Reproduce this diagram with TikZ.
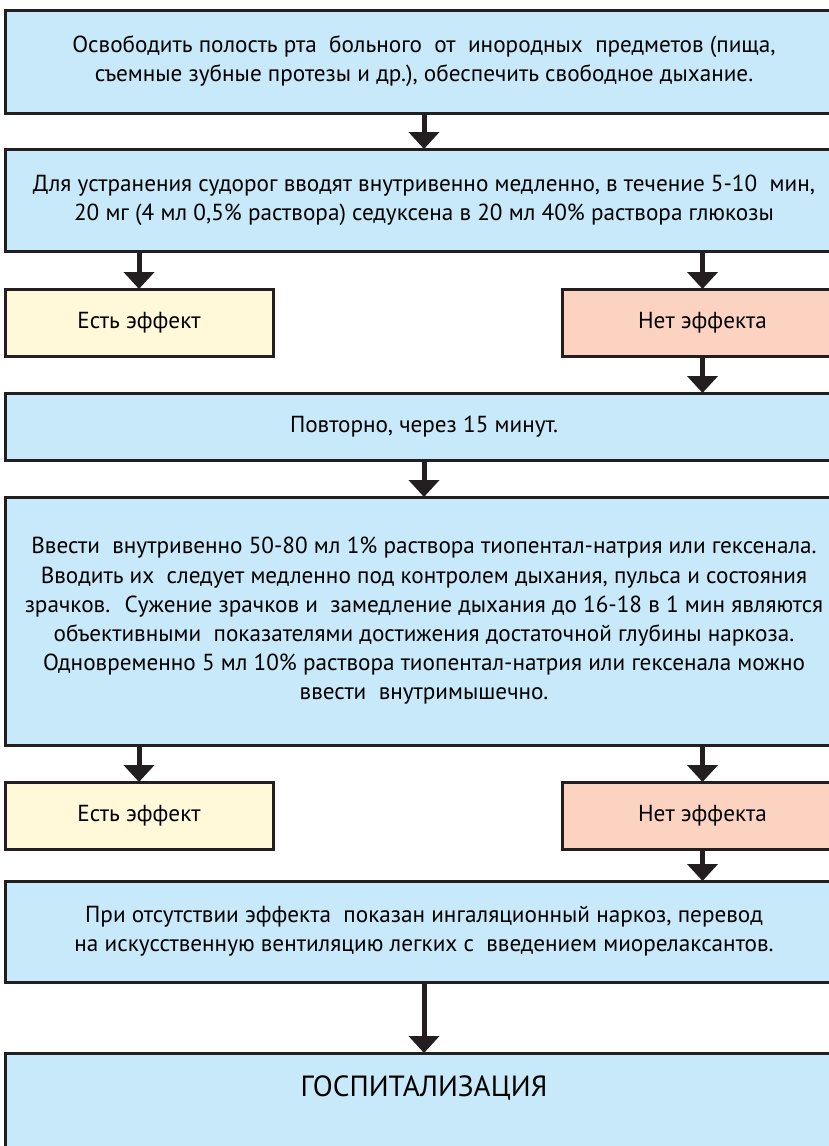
\documentclass[tikz,border=0pt]{standalone}
\usepackage{fontspec}
\setmainfont{PT Sans}
\usepackage{tikz}
\usetikzlibrary{positioning,arrows.meta}

\definecolor{stepblue}{HTML}{C7E9F9}
\definecolor{yesyellow}{HTML}{FFF9D9}
\definecolor{nosalmon}{HTML}{FCD3C1}
\definecolor{edgegray}{HTML}{231F20}

\begin{document}
\begin{tikzpicture}[
    x=0.5pt, y=-0.5pt,
    box/.style={draw=edgegray, line width=1.5pt, outer sep=0pt, inner sep=0pt, align=center, font=\fontsize{11.6}{14.6}\selectfont},
    mainbox/.style={box, fill=stepblue, minimum width=419pt},
    yesbox/.style={box, fill=yesyellow, minimum width=134pt, minimum height=33.5pt},
    nobox/.style={box, fill=nosalmon, minimum width=140.5pt, minimum height=33.5pt},
    arr/.style={-{Triangle[width=15pt,length=8.5pt]}, line width=2.5pt, draw=edgegray}
]
\useasboundingbox (0,0) rectangle (829,1146);
\clip (0,0) rectangle (829,1146);

% First aid
\node[mainbox, minimum height=51.5pt, anchor=north west] (free) at (5,10)
{Освободить полость рта \ больного \ от \ инородных \ предметов (пища,\\съемные зубные протезы и др.), обеспечить свободное дыхание.};
\node[mainbox, minimum height=51pt, below=18pt of free] (seduxen)
{Для устранения судорог вводят внутривенно медленно, в течение 5-10 \ мин,\\20 мг (4 мл 0,5\% раствора) седуксена в 20 мл 40\% раствора глюкозы};

% First result
\node[yesbox, below=19pt of seduxen.south west, anchor=north west] (yes1) {Есть эффект};
\node[nobox, below=19pt of seduxen.south east, anchor=north east] (no1) {Нет эффекта};

% Repeat
\node[mainbox, minimum height=33.5pt, below=18.5pt of yes1.south west, anchor=north west] (again)
{Повторно, через 15 минут.};
\node[mainbox, minimum height=124pt, below=18.5pt of again] (thiopental)
{Ввести \ внутривенно 50-80 мл 1\% раствора тиопентал-натрия или гексенала.\\
Вводить их \ следует медленно под контролем дыхания, пульса и состояния\\
зрачков. \ Сужение зрачков и \ замедление дыхания до 16-18 в 1 мин являются\\
объективными \ показателями достижения достаточной глубины наркоза.\\
Одновременно 5 мл 10\% раствора тиопентал-натрия или гексенала можно\\
ввести \ внутримышечно.};

% Second result
\node[yesbox, below=18.5pt of thiopental.south west, anchor=north west] (yes2) {Есть эффект};
\node[nobox, below=18.5pt of thiopental.south east, anchor=north east] (no2) {Нет эффекта};

% Last steps
\node[mainbox, minimum height=50.5pt, below=16pt of yes2.south west, anchor=north west] (inhal)
{При отсутствии эффекта \ показан ингаляционный наркоз, перевод\\на искусственную вентиляцию легких с \ введением миорелаксантов.};
\node[mainbox, minimum height=50pt, text depth=17pt, below=35.5pt of inhal, font=\fontsize{14.6}{16}\selectfont] (hosp)
{ГОСПИТАЛИЗАЦИЯ};

% Arrows
\draw[arr] (free) -- (seduxen);
\draw[arr] (seduxen.south -| yes1) -- (yes1);
\draw[arr] (seduxen.south -| no1) -- (no1);
\draw[arr] (no1) -- (again.north -| no1);
\draw[arr] (again) -- (thiopental);
\draw[arr] (thiopental.south -| yes2) -- (yes2);
\draw[arr] (thiopental.south -| no2) -- (no2);
\draw[arr] (no2) -- (inhal.north -| no2);
\draw[arr] (inhal) -- (hosp);
\end{tikzpicture}
\end{document}
